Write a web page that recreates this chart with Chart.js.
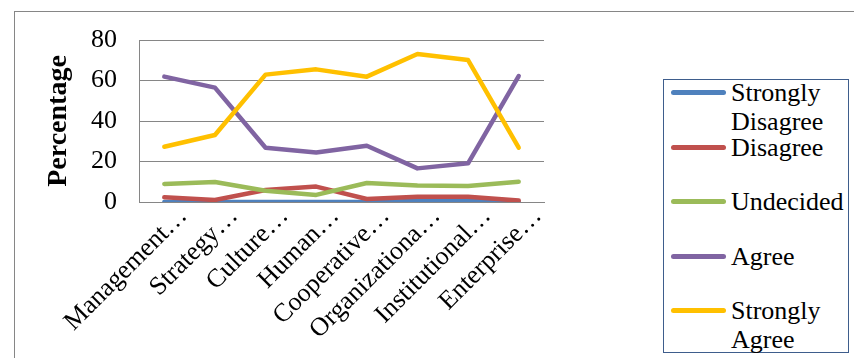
<!DOCTYPE html>
<html>
<head>
<meta charset="utf-8">
<script src="https://cdn.jsdelivr.net/npm/chart.js@4.4.0/dist/chart.umd.min.js"></script>
<style>
  html, body { margin: 0; padding: 0; background: #fff; }
  body { width: 854px; height: 358px; position: relative; overflow: hidden; }
  #frame {
    position: absolute; left: 14px; top: 11px; width: 900px; height: 400px;
    border: 1px solid #868686;
  }
  #line-chart { position: absolute; left: 0; top: 0; }
  #legend {
    position: absolute; left: 663px; top: 79px; width: 184px; height: 272px;
    border: 1px solid #3e5d8c; background: #fff;
  }
  .legend-item { position: absolute; left: 0; width: 184px; height: 29px; }
  .legend-item .swatch {
    position: absolute; left: 7px; top: 12px; width: 55px; height: 5px; border-radius: 3px;
  }
  .legend-item .text {
    position: absolute; left: 67px; top: 0; width: 118px;
    font: 26px 'Liberation Serif', serif; line-height: 29px; color: #000;
  }
</style>
</head>
<body>
<div id="frame"></div>
<canvas id="line-chart" width="600" height="358"></canvas>
<div id="legend"></div>
<script>
const categories = ['Management…', 'Strategy…', 'Culture…', 'Human…', 'Cooperative…', 'Organizationa…', 'Institutional…', 'Enterprise…'];
const seriesNames = ['Strongly Disagree', 'Disagree', 'Undecided', 'Agree', 'Strongly Agree'];
const stronglyDisagree = [0, 0, 0, 0, 0, 0.5, 1, 0];
const disagree = [2.3, 1.0, 5.9, 7.6, 1.5, 2.6, 2.6, 0.7];
const undecided = [8.9, 9.9, 5.6, 3.5, 9.4, 8.2, 7.9, 10.0];
const agree = [61.9, 56.5, 26.8, 24.4, 27.8, 16.6, 19.1, 62.2];
const stronglyAgree = [27.3, 33.1, 62.9, 65.5, 61.9, 73.1, 70.1, 26.8];
const yTicks = [0, 20, 40, 60, 80];

const colors = ['#4F81BD', '#C0504D', '#9BBB59', '#8064A2', '#FFC000'];
const serif = "'Liberation Serif', serif";
const gridColor = '#868686';

const values = [stronglyDisagree, disagree, undecided, agree, stronglyAgree];

// later series sit on top of earlier ones
const datasets = values.map((v, i) => ({
  label: seriesNames[i],
  data: v,
  borderColor: colors[i],
  backgroundColor: colors[i],
  borderWidth: 4.5,
  pointRadius: 0,
  tension: 0,
  borderCapStyle: 'round',
  borderJoinStyle: 'round',
  order: values.length - i
}));

// legend drawn as html so the long names can wrap
const htmlLegend = {
  id: 'htmlLegend',
  afterUpdate(chart) {
    const box = document.getElementById('legend');
    box.innerHTML = '';
    chart.data.datasets.forEach((ds, i) => {
      const item = document.createElement('div');
      item.className = 'legend-item';
      item.style.top = (-2 + i * 54.5) + 'px';
      const swatch = document.createElement('span');
      swatch.className = 'swatch';
      swatch.style.background = ds.borderColor;
      const text = document.createElement('span');
      text.className = 'text';
      text.textContent = ds.label;
      item.appendChild(swatch);
      item.appendChild(text);
      box.appendChild(item);
    });
  }
};

const ctx = document.getElementById('line-chart');
new Chart(ctx, {
  type: 'line',
  data: { labels: categories, datasets: datasets },
  options: {
    responsive: false,
    animation: false,
    layout: { padding: { left: 42, top: 40, right: 56, bottom: 0 } },
    plugins: {
      legend: { display: false },
      tooltip: { enabled: false }
    },
    scales: {
      x: {
        offset: true,
        grid: { display: false, drawTicks: false },
        border: { display: true, color: gridColor },
        ticks: {
          autoSkip: false,
          minRotation: 45,
          maxRotation: 45,
          labelOffset: 19,
          padding: -1,
          color: '#000',
          font: { family: serif, size: 26 }
        },
        afterFit(scale) {
          scale.height = 156;
          scale.paddingLeft = 0;
          scale.paddingRight = 0;
        }
      },
      y: {
        min: 0,
        max: 80,
        afterBuildTicks(scale) {
          scale.ticks = yTicks.map(v => ({ value: v }));
        },
        grid: { color: gridColor, drawTicks: false },
        border: { color: gridColor },
        ticks: {
          padding: 22,
          color: '#000',
          font: { family: serif, size: 26 }
        },
        title: {
          display: true,
          text: 'Percentage',
          color: '#000',
          padding: 0,
          font: { family: serif, size: 28, weight: 'bold' }
        },
        afterFit(scale) {
          scale.width = 97;
        }
      }
    }
  },
  plugins: [htmlLegend]
});
</script>
</body>
</html>
